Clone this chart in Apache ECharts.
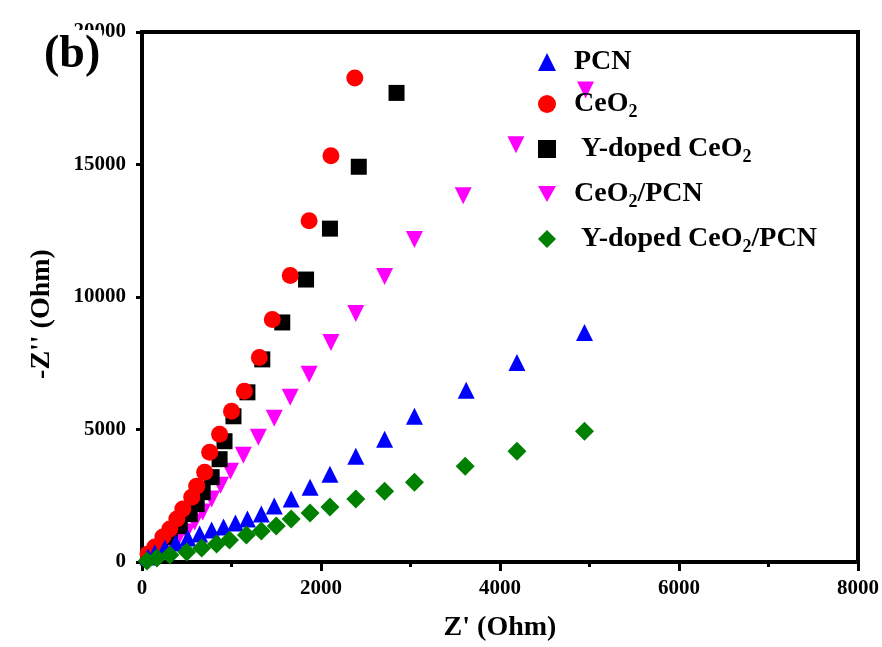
<!DOCTYPE html>
<html>
<head>
<meta charset="utf-8">
<script src="https://cdn.jsdelivr.net/npm/echarts@6/dist/echarts.min.js"></script>
<style>
  html, body { margin: 0; padding: 0; background: #fff; }
  #chart { width: 882px; height: 647px; }
</style>
</head>
<body>
<div id="chart"></div>
<script>
// ---- data ----
const seriesNames = ['PCN', 'CeO2', 'Y-doped CeO2', 'CeO2/PCN', 'Y-doped CeO2/PCN'];

const pcnX = [4944, 4189, 3622, 3044, 2711, 2389, 2100, 1878, 1667, 1478, 1333, 1178, 1044, 911, 778, 644, 511, 378, 256, 144, 67];
const pcnY = [8663, 7533, 6478, 5499, 4633, 3992, 3315, 2825, 2373, 2109, 1808, 1620, 1469, 1318, 1205, 1055, 904, 716, 527, 339, 188];

const ceo2X = [2378, 2111, 1867, 1656, 1456, 1311, 1144, 1000, 867, 756, 700, 611, 556, 456, 389, 311, 233, 144, 67];
const ceo2Y = [18267, 15330, 12881, 10810, 9153, 7721, 6441, 5687, 4821, 4143, 3390, 2863, 2448, 1996, 1620, 1243, 942, 565, 301];

const ydX = [2844, 2422, 2100, 1833, 1567, 1344, 1178, 1022, 922, 867, 778, 678, 611, 533, 422, 311, 200, 89];
const ydY = [17702, 14915, 12580, 10659, 9040, 7646, 6403, 5499, 4558, 3880, 3202, 2637, 2185, 1808, 1356, 942, 565, 264];

const ceoPcnX = [4956, 4178, 3589, 3044, 2711, 2389, 2111, 1867, 1656, 1478, 1300, 1133, 989, 878, 778, 678, 589, 500, 389, 278, 167, 78];
const ceoPcnY = [17816, 15744, 13823, 12166, 10772, 9379, 8286, 7081, 6215, 5424, 4708, 4030, 3427, 2900, 2373, 1883, 1507, 1130, 791, 565, 339, 188];

const ydPcnX = [4944, 4189, 3611, 3044, 2711, 2389, 2100, 1878, 1667, 1500, 1333, 1167, 978, 833, 667, 500, 311, 167, 56];
const ydPcnY = [4934, 4181, 3616, 3013, 2674, 2373, 2072, 1846, 1620, 1356, 1168, 1017, 829, 678, 527, 377, 264, 151, 38];

const xTicks = [0, 2000, 4000, 6000, 8000];
const yTicks = [0, 5000, 10000, 15000, 20000];

// ---- helpers ----
function pairs(xs, ys) { return xs.map((x, i) => [x, ys[i]]); }
const FONT = '"Liberation Serif", "Times New Roman", serif';
const downTri = 'path://M0,0 L10,0 L5,9 Z';

const legendLabels = {
  'PCN': '{f|PCN}',
  'CeO2': '{f|CeO}{s|2}',
  'Y-doped CeO2': '{f| Y-doped CeO}{s|2}',
  'CeO2/PCN': '{f|CeO}{s|2}{t|/PCN}',
  'Y-doped CeO2/PCN': '{f| Y-doped CeO}{s|2}{t|/PCN}'
};

const chart = echarts.init(document.getElementById('chart'), null, { renderer: 'canvas' });

function sc(name, data, symbol, color, size, z) {
  return {
    name: name, type: 'scatter', data: data, symbol: symbol, symbolSize: size,
    itemStyle: { color: color, opacity: 1 }, z: z, animation: false
  };
}

const labelStyle = { fontFamily: FONT, fontWeight: 'bold', fontSize: 21, color: '#000' };

chart.setOption({
  animation: false,
  backgroundColor: '#fff',
  grid: { left: 142, right: 20, top: 32, bottom: 84, show: true, borderColor: '#000', borderWidth: 4, containLabel: false },
  xAxis: {
    type: 'value', min: xTicks[0], max: xTicks[xTicks.length - 1], interval: 2000,
    name: "Z' (Ohm)", nameLocation: 'middle', nameGap: 52,
    nameTextStyle: { fontFamily: FONT, fontWeight: 'bold', fontSize: 28, color: '#000' },
    axisLine: { show: true, onZero: false, lineStyle: { color: '#000', width: 4 } },
    axisTick: { show: true, inside: false, length: 9, lineStyle: { color: '#000', width: 3 } },
    minorTick: { show: true, splitNumber: 2, length: 5, lineStyle: { color: '#000', width: 3 } },
    splitLine: { show: false },
    axisLabel: Object.assign({ margin: 16, formatter: v => String(v) }, labelStyle)
  },
  yAxis: {
    type: 'value', min: yTicks[0], max: yTicks[yTicks.length - 1], interval: 5000,
    name: "-Z'' (Ohm)", nameLocation: 'middle', nameGap: 86, nameRotate: 90,
    nameTextStyle: { fontFamily: FONT, fontWeight: 'bold', fontSize: 28, color: '#000', padding: [0, 34, 0, 0] },
    axisLine: { show: true, onZero: false, lineStyle: { color: '#000', width: 4 } },
    axisTick: { show: true, inside: false, length: 6, lineStyle: { color: '#000', width: 3 } },
    splitLine: { show: false },
    axisLabel: Object.assign({ margin: 16, formatter: v => String(v) }, labelStyle)
  },
  legend: {
    orient: 'vertical', left: 533, top: 43,
    itemWidth: 18, itemHeight: 18, itemGap: 14,
    data: seriesNames,
    formatter: function (n) { return legendLabels[n]; },
    textStyle: {
      color: '#000',
      rich: {
        f: { fontFamily: FONT, fontWeight: 'bold', fontSize: 28, lineHeight: 34, color: '#000', padding: [0, 0, 0, 13] },
        t: { fontFamily: FONT, fontWeight: 'bold', fontSize: 28, lineHeight: 34, color: '#000' },
        s: { fontFamily: FONT, fontWeight: 'bold', fontSize: 18, lineHeight: 18, verticalAlign: 'bottom', color: '#000' }
      }
    }
  },
  graphic: [{
    type: 'text', left: 42, top: 30, z: 100,
    style: { text: '(b)', font: 'bold 46px ' + FONT, fill: '#000', backgroundColor: '#fff', padding: [2, 2, 0, 2] }
  }],
  series: [
    sc('CeO2/PCN', pairs(ceoPcnX, ceoPcnY), downTri, '#FF00FF', 17, 2),
    sc('Y-doped CeO2', pairs(ydX, ydY), 'rect', '#000000', 16, 3),
    sc('CeO2', pairs(ceo2X, ceo2Y), 'circle', '#FF0000', 17, 4),
    sc('PCN', pairs(pcnX, pcnY), 'triangle', '#0000FF', 17, 5),
    sc('Y-doped CeO2/PCN', pairs(ydPcnX, ydPcnY), 'diamond', '#008000', 19, 6)
  ]
});
</script>
</body>
</html>
